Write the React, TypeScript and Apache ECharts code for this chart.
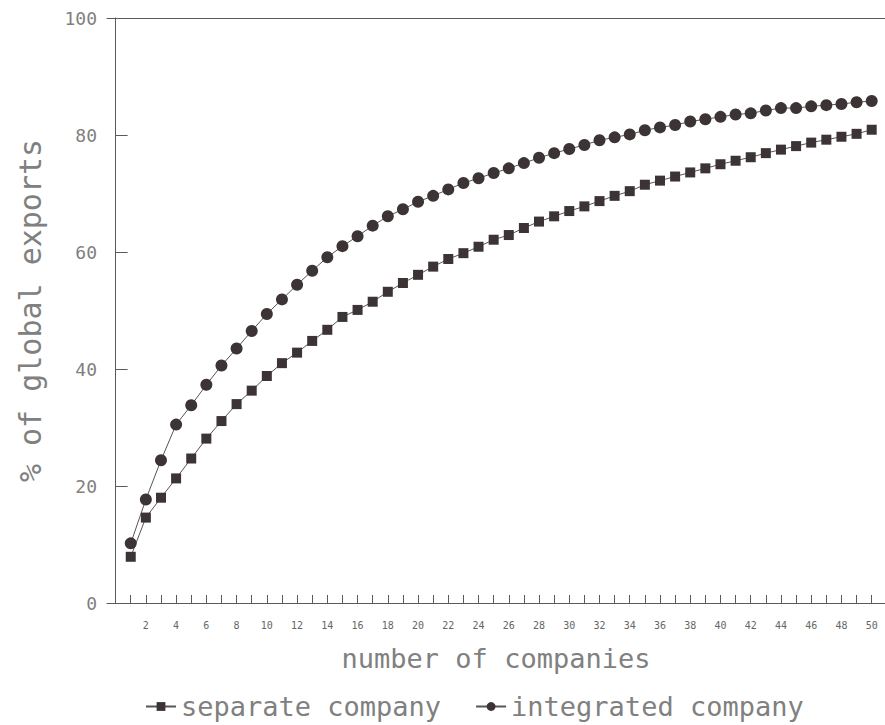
import React, { useEffect, useRef } from "react";
import * as echarts from "echarts";

const companies = [
  1, 2, 3, 4, 5, 6, 7, 8, 9, 10, 11, 12, 13, 14, 15, 16, 17, 18, 19, 20, 21, 22, 23, 24, 25,
  26, 27, 28, 29, 30, 31, 32, 33, 34, 35, 36, 37, 38, 39, 40, 41, 42, 43, 44, 45, 46, 47, 48, 49, 50,
];
const xTickLabels = [2, 4, 6, 8, 10, 12, 14, 16, 18, 20, 22, 24, 26, 28, 30, 32, 34, 36, 38, 40, 42, 44, 46, 48, 50];
const yTicks = [20, 40, 60, 80];

const separateCompany = [
  7.9, 14.6, 18.0, 21.3, 24.7, 28.1, 31.1, 34.0, 36.3, 38.8,
  41.0, 42.8, 44.8, 46.7, 48.9, 50.1, 51.5, 53.2, 54.7, 56.1,
  57.5, 58.8, 59.8, 60.9, 62.1, 62.9, 64.1, 65.2, 66.1, 67.0,
  67.8, 68.7, 69.6, 70.4, 71.5, 72.2, 72.9, 73.6, 74.3, 75.0,
  75.6, 76.2, 76.9, 77.5, 78.1, 78.7, 79.2, 79.7, 80.2, 80.9,
];
const integratedCompany = [
  10.2, 17.7, 24.4, 30.5, 33.8, 37.3, 40.6, 43.5, 46.5, 49.4,
  51.9, 54.4, 56.8, 59.1, 61.0, 62.7, 64.5, 66.1, 67.3, 68.6,
  69.6, 70.7, 71.8, 72.6, 73.5, 74.3, 75.2, 76.1, 76.9, 77.6,
  78.3, 79.1, 79.6, 80.1, 80.8, 81.3, 81.7, 82.3, 82.7, 83.1,
  83.5, 83.7, 84.2, 84.6, 84.6, 84.9, 85.1, 85.3, 85.6, 85.8,
];

const MONO = "'DejaVu Sans Mono', 'Liberation Mono', monospace";
const TEXT = "#808080";
const AXIS = "#5a5a5a";
const MARK = "#3b3334";

export default function App() {
  const ref = useRef<HTMLDivElement>(null);
  useEffect(() => {
    document.body.style.margin = "0";
    if (!ref.current) return;
    const chart = echarts.init(ref.current, null, { renderer: "svg" });
    const xMin = -0.57;
    const xMax = 50.88;
    chart.setOption({
      animation: false,
      backgroundColor: "#ffffff",
      grid: { left: 107, top: 18, right: 0, bottom: 122, containLabel: false, outerBoundsMode: "none" },
      legend: {
        top: 688,
        left: 140,
        itemWidth: 30,
        itemHeight: 11,
        itemGap: 34,
        textStyle: { fontFamily: MONO, fontSize: 27, color: TEXT },
        data: ["separate company", "integrated company"],
      },
      xAxis: [
        {
          type: "value",
          min: xMin,
          max: xMax,
          name: "number of companies",
          nameLocation: "middle",
          nameGap: 42,
          nameTextStyle: { fontFamily: MONO, fontSize: 27, color: TEXT },
          axisLine: { show: true, lineStyle: { color: AXIS, width: 1 } },
          axisTick: {
            show: true,
            inside: true,
            length: 8,
            customValues: companies,
            lineStyle: { color: AXIS, width: 1 },
          },
          axisLabel: {
            customValues: xTickLabels,
            fontFamily: MONO,
            fontSize: 10,
            margin: 17,
            color: "#666",
          },
          splitLine: { show: false },
        },
        {
          type: "value",
          position: "top",
          min: xMin,
          max: xMax,
          axisLine: { show: true, lineStyle: { color: AXIS, width: 1 } },
          axisTick: { show: false },
          axisLabel: { show: false },
          splitLine: { show: false },
        },
      ],
      yAxis: {
        type: "value",
        min: 0,
        max: 100,
        interval: 20,
        name: "% of global exports",
        nameLocation: "middle",
        nameGap: 62,
        nameRotate: 90,
        nameTextStyle: { fontFamily: MONO, fontSize: 30, color: TEXT },
        axisLine: { show: true, lineStyle: { color: AXIS, width: 1 } },
        axisTick: {
          show: true,
          inside: true,
          length: 12,
          customValues: yTicks,
          lineStyle: { color: AXIS, width: 1 },
        },
        axisLabel: { fontFamily: MONO, fontSize: 18, margin: 10, color: TEXT },
        splitLine: { show: false },
      },
      series: [
        {
          name: "separate company",
          type: "line",
          xAxisIndex: 0,
          data: companies.map((c, i) => [c, separateCompany[i]]),
          symbol: "rect",
          symbolSize: 10,
          itemStyle: { color: MARK },
          lineStyle: { color: "#555", width: 1 },
        },
        {
          name: "integrated company",
          type: "line",
          xAxisIndex: 0,
          data: companies.map((c, i) => [c, integratedCompany[i]]),
          symbol: "circle",
          symbolSize: 12,
          itemStyle: { color: MARK },
          lineStyle: { color: "#555", width: 1 },
        },
      ],
    });
    return () => chart.dispose();
  }, []);
  return <div ref={ref} style={{ width: 885, height: 725 }} />;
}
